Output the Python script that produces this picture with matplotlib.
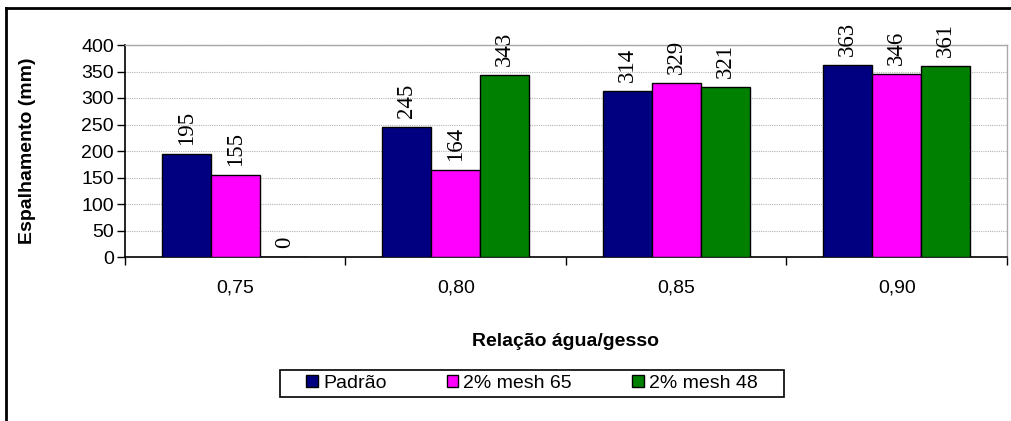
import matplotlib
matplotlib.use('Agg')
import matplotlib.pyplot as plt
import numpy as np
from matplotlib.patches import Rectangle
from matplotlib.lines import Line2D

# espalhamento por relacao agua/gesso
categorias = ['0,75', '0,80', '0,85', '0,90']
padrao = [195, 245, 314, 363]
mesh65 = [155, 164, 329, 346]
mesh48 = [0, 343, 321, 361]
series = ['Padrão', '2% mesh 65', '2% mesh 48']
cores = ['#000080', '#FF00FF', '#008000']

plt.rcParams['font.family'] = ['Liberation Sans', 'DejaVu Sans']

fig = plt.figure(figsize=(10.12, 4.21), dpi=100)
ax = fig.add_axes([125/1012, 1-257/421, (1007-125)/1012, (257-45)/421])

x = np.arange(len(categorias))
w = 1/4.5
for k, (vals, nome, cor) in enumerate(zip([padrao, mesh65, mesh48], series, cores)):
    pos = x + (k-1)*w
    bars = ax.bar(pos, vals, width=w, color=cor, edgecolor='black', linewidth=1, label=nome, zorder=3)
    for xp, v in zip(pos, vals):
        ax.annotate(str(v), (xp, v), xytext=(0, 6.5), textcoords='offset points',
                    rotation=90, ha='center', va='bottom', fontsize=16.5,
                    family=['Liberation Serif', 'DejaVu Serif'])

ax.set_ylim(0, 400)
ax.set_yticks(range(0, 401, 50))
ax.set_xlim(-0.5, 3.5)
ax.set_xticks(np.arange(-0.5, 3.6, 1))
ax.set_xticklabels([])
ax.set_xticks(x, minor=True)
ax.set_xticklabels(categorias, minor=True)
ax.tick_params(axis='x', which='minor', length=0, pad=16, labelsize=14)
ax.tick_params(axis='x', which='major', length=6, width=1)
ax.tick_params(axis='y', length=6, width=1, labelsize=14, pad=2)
ax.yaxis.grid(True, color='#b4b4b4', linestyle=(0, (1, 1)), linewidth=0.8, zorder=0)

for s in ['left', 'bottom']:
    ax.spines[s].set_color('black')
    ax.spines[s].set_linewidth(1.2)
for s in ['top', 'right']:
    ax.spines[s].set_color('#a8a8a8')
    ax.spines[s].set_linewidth(1)

fig.text(28/1012, 1-151/421, 'Espalhamento (mm)', rotation=90, ha='center', va='center',
         fontsize=14, fontweight='bold')
fig.text(566/1012, 1-341/421, 'Relação água/gesso', ha='center', va='center',
         fontsize=14, fontweight='bold')

# legenda
fig.legend(loc='center', bbox_to_anchor=(532/1012, 1-383.5/421), ncol=3, frameon=False,
           fontsize=14, handlelength=0.6, handleheight=0.6, handletextpad=0.25,
           columnspacing=3.1)
fig.add_artist(Rectangle((280/1012, 1-397/421), 504/1012, 27/421, transform=fig.transFigure,
                         fill=False, edgecolor='black', linewidth=1.2))

# moldura externa
fig.add_artist(Line2D([6/1012, 6/1012], [0, 1-8/421], transform=fig.transFigure,
                      color='black', linewidth=2))
fig.add_artist(Line2D([6/1012, 1], [1-8/421, 1-8/421], transform=fig.transFigure,
                      color='black', linewidth=2))

fig.savefig('out.png', dpi=100)
